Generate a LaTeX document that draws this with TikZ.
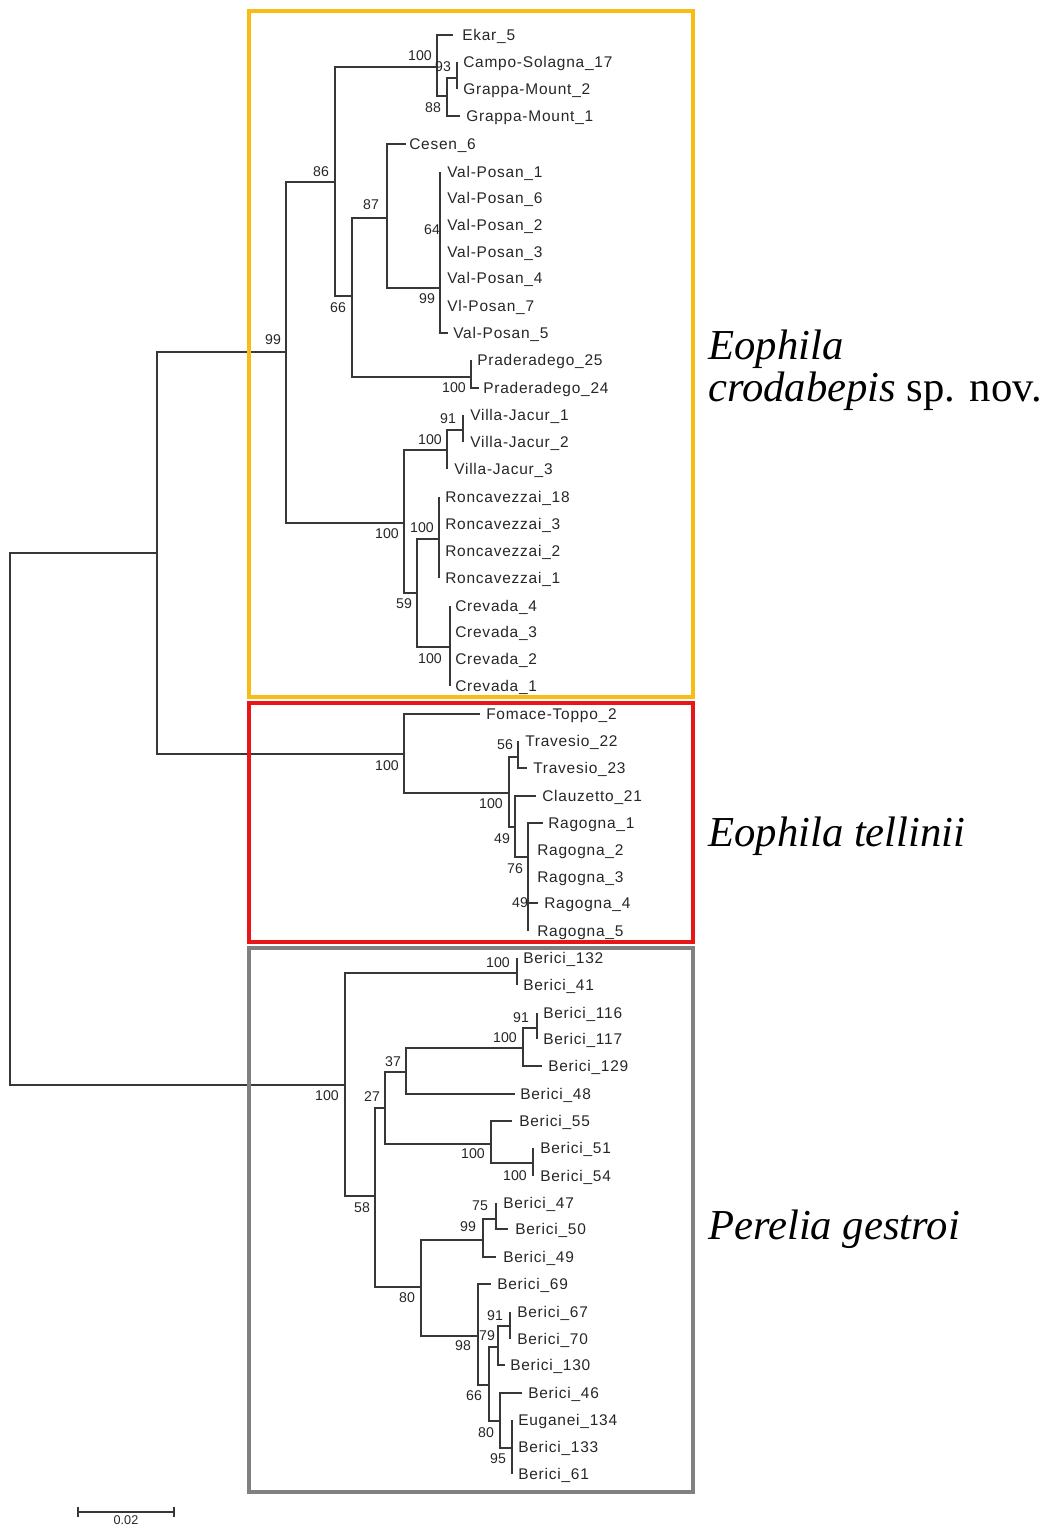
\documentclass[tikz,border=0pt]{standalone}
\usepackage{fontspec}
\setmainfont{Liberation Serif}
\newfontfamily\labfont[LetterSpace=5]{Liberation Sans}
\newfontfamily\numfont{Liberation Sans}
\definecolor{boxorange}{RGB}{248,188,20}
\definecolor{boxred}{RGB}{232,22,22}
\definecolor{boxgray}{RGB}{128,128,128}
\definecolor{treeline}{RGB}{55,55,55}
\tikzset{
  branch/.style={line width=0.95pt, draw=treeline},
  leaf/.style={anchor=west, inner sep=0pt, text height=8.3pt, text depth=0pt,
    font=\labfont\fontsize{11.6}{13}\selectfont, text=black!85},
  bs/.style={anchor=center, inner sep=0pt, text height=7.6pt, text depth=0pt,
    font=\numfont\fontsize{10.6}{12}\selectfont, text=black!85},
  species/.style={anchor=base west, inner sep=0pt,
    font=\fontsize{32}{38}\selectfont\itshape},
  cladebox/.style={line width=3pt}
}
\newcommand\mkleaf[5]{\coordinate (t#1) at (#2,#4); \node[leaf] (l#1) at (#3,#4) {#5};}
\newcommand\bsv[3]{\node[bs] (b#1) at (#2) {#3};}
\begin{document}
\begin{tikzpicture}[x=0.75pt,y=-0.75pt]
\useasboundingbox (0,0) rectangle (1043,1527);
% ---------- leaves ----------
\mkleaf{Ekar}{453}{462}{35}{Ekar\_5}
\mkleaf{Campo}{457}{463}{62}{Campo-Solagna\_17}
\mkleaf{GMb}{457}{463}{89}{Grappa-Mount\_2}
\mkleaf{GMa}{460}{466}{116}{Grappa-Mount\_1}
\mkleaf{Cesen}{406}{409}{144}{Cesen\_6}
\mkleaf{VPa}{440}{447}{172}{Val-Posan\_1}
\mkleaf{VPf}{440}{447}{198}{Val-Posan\_6}
\mkleaf{VPb}{440}{447}{225}{Val-Posan\_2}
\mkleaf{VPc}{440}{447}{252}{Val-Posan\_3}
\mkleaf{VPd}{440}{447}{278}{Val-Posan\_4}
\mkleaf{VPg}{440}{447}{306}{Vl-Posan\_7}
\mkleaf{VPe}{448}{453}{333}{Val-Posan\_5}
\mkleaf{Pra}{471}{477}{360}{Praderadego\_25}
\mkleaf{Prb}{479}{483}{388}{Praderadego\_24}
\mkleaf{VJa}{463}{470}{415}{Villa-Jacur\_1}
\mkleaf{VJb}{463}{470}{442}{Villa-Jacur\_2}
\mkleaf{VJc}{447}{454}{469}{Villa-Jacur\_3}
\mkleaf{Ra}{439}{445}{497}{Roncavezzai\_18}
\mkleaf{Rb}{439}{445}{524}{Roncavezzai\_3}
\mkleaf{Rc}{439}{445}{551}{Roncavezzai\_2}
\mkleaf{Rd}{439}{445}{578}{Roncavezzai\_1}
\mkleaf{Cra}{450}{455}{606}{Crevada\_4}
\mkleaf{Crb}{450}{455}{632}{Crevada\_3}
\mkleaf{Crc}{450}{455}{659}{Crevada\_2}
\mkleaf{Crd}{450}{455}{686}{Crevada\_1}
\mkleaf{FT}{480}{486}{714}{Fomace-Toppo\_2}
\mkleaf{Tra}{518}{525}{741}{Travesio\_22}
\mkleaf{Trb}{527}{533}{768}{Travesio\_23}
\mkleaf{Cla}{536}{542}{796}{Clauzetto\_21}
\mkleaf{Rga}{543}{548}{823}{Ragogna\_1}
\mkleaf{Rgb}{528}{537}{850}{Ragogna\_2}
\mkleaf{Rgc}{528}{537}{877}{Ragogna\_3}
\mkleaf{Rgd}{538}{544}{903}{Ragogna\_4}
\mkleaf{Rge}{528}{537}{931}{Ragogna\_5}
\mkleaf{Ba}{517}{523}{958}{Berici\_132}
\mkleaf{Bb}{517}{523}{985}{Berici\_41}
\mkleaf{Bc}{537}{543}{1013}{Berici\_116}
\mkleaf{Bd}{537}{543}{1039}{Berici\_117}
\mkleaf{Be}{542}{548}{1066}{Berici\_129}
\mkleaf{Bf}{515}{520}{1094}{Berici\_48}
\mkleaf{Bg}{512}{519}{1121}{Berici\_55}
\mkleaf{Bh}{533}{540}{1148}{Berici\_51}
\mkleaf{Bi}{533}{540}{1176}{Berici\_54}
\mkleaf{Bj}{496}{503}{1203}{Berici\_47}
\mkleaf{Bk}{508}{515}{1229}{Berici\_50}
\mkleaf{Bl}{496}{503}{1257}{Berici\_49}
\mkleaf{Bm}{491}{497}{1284}{Berici\_69}
\mkleaf{Bn}{510}{517}{1312}{Berici\_67}
\mkleaf{Bo}{510}{517}{1339}{Berici\_70}
\mkleaf{Bp}{505}{510}{1365}{Berici\_130}
\mkleaf{Bq}{522}{528}{1393}{Berici\_46}
\mkleaf{Br}{512}{518}{1420}{Euganei\_134}
\mkleaf{Bs}{512}{518}{1447}{Berici\_133}
\mkleaf{Bt}{512}{518}{1474}{Berici\_61}
% ---------- internal nodes ----------
\coordinate (R) at (10,819);
\coordinate (A) at (157,553);
\coordinate (E99) at (286,352);
\coordinate (E86) at (335,182);
\coordinate (C100) at (437,67);
\coordinate (C88) at (447,96);
\coordinate (C93) at (457,78);
\coordinate (E66) at (352,296);
\coordinate (E87) at (387,218);
\coordinate (VP99) at (440,288);
\coordinate (Pr100) at (471,377);
\coordinate (EB100) at (404,523);
\coordinate (VJ100) at (447,450);
\coordinate (VJ91) at (463,430);
\coordinate (E59) at (417,593);
\coordinate (R100) at (439,539);
\coordinate (Cr100) at (450,647);
\coordinate (T100) at (404,754);
\coordinate (T100b) at (509,793);
\coordinate (T56) at (518,757);
\coordinate (T49) at (515,827);
\coordinate (T76) at (528,857);
\coordinate (Rthick) at (528,896);
\coordinate (P100) at (345,1085);
\coordinate (B132n) at (517,973);
\coordinate (P58) at (375,1196);
\coordinate (P27) at (385,1108);
\coordinate (P37) at (406,1072);
\coordinate (P100b) at (523,1048);
\coordinate (P91) at (537,1028);
\coordinate (P100c) at (491,1144);
\coordinate (P100d) at (533,1163);
\coordinate (P80) at (421,1287);
\coordinate (P99) at (483,1240);
\coordinate (P75) at (496,1219);
\coordinate (P98) at (478,1336);
\coordinate (P66) at (489,1385);
\coordinate (P79) at (498,1347);
\coordinate (P91b) at (510,1326);
\coordinate (P80b) at (500,1421);
\coordinate (P95) at (512,1448);
% ---------- branches ----------
\foreach \c in {A,P100} \draw[branch] (R) |- (\c);
\foreach \c in {E99,T100} \draw[branch] (A) |- (\c);
\foreach \c in {E86,EB100} \draw[branch] (E99) |- (\c);
\foreach \c in {C100,E66} \draw[branch] (E86) |- (\c);
\foreach \c in {tEkar,C88} \draw[branch] (C100) |- (\c);
\foreach \c in {C93,tGMa} \draw[branch] (C88) |- (\c);
\foreach \c in {tCampo,tGMb} \draw[branch] (C93) |- (\c);
\foreach \c in {E87,Pr100} \draw[branch] (E66) |- (\c);
\foreach \c in {tCesen,VP99} \draw[branch] (E87) |- (\c);
\foreach \c in {tVPa,tVPf,tVPb,tVPc,tVPd,tVPg,tVPe} \draw[branch] (VP99) |- (\c);
\foreach \c in {tPra,tPrb} \draw[branch] (Pr100) |- (\c);
\foreach \c in {VJ100,E59} \draw[branch] (EB100) |- (\c);
\foreach \c in {VJ91,tVJc} \draw[branch] (VJ100) |- (\c);
\foreach \c in {tVJa,tVJb} \draw[branch] (VJ91) |- (\c);
\foreach \c in {R100,Cr100} \draw[branch] (E59) |- (\c);
\foreach \c in {tRa,tRb,tRc,tRd} \draw[branch] (R100) |- (\c);
\foreach \c in {tCra,tCrb,tCrc,tCrd} \draw[branch] (Cr100) |- (\c);
\foreach \c in {tFT,T100b} \draw[branch] (T100) |- (\c);
\foreach \c in {T56,T49} \draw[branch] (T100b) |- (\c);
\foreach \c in {tTra,tTrb} \draw[branch] (T56) |- (\c);
\foreach \c in {tCla,T76} \draw[branch] (T49) |- (\c);
\foreach \c in {tRga,tRgb,tRgc,tRgd,tRge} \draw[branch] (T76) |- (\c);
\draw[branch, line width=2pt] (tRgb) -- (Rthick);
\foreach \c in {B132n,P58} \draw[branch] (P100) |- (\c);
\foreach \c in {tBa,tBb} \draw[branch] (B132n) |- (\c);
\foreach \c in {P27,P80} \draw[branch] (P58) |- (\c);
\foreach \c in {P37,P100c} \draw[branch] (P27) |- (\c);
\foreach \c in {P100b,tBf} \draw[branch] (P37) |- (\c);
\foreach \c in {P91,tBe} \draw[branch] (P100b) |- (\c);
\foreach \c in {tBc,tBd} \draw[branch] (P91) |- (\c);
\foreach \c in {tBg,P100d} \draw[branch] (P100c) |- (\c);
\foreach \c in {tBh,tBi} \draw[branch] (P100d) |- (\c);
\foreach \c in {P99,P98} \draw[branch] (P80) |- (\c);
\foreach \c in {P75,tBl} \draw[branch] (P99) |- (\c);
\foreach \c in {tBj,tBk} \draw[branch] (P75) |- (\c);
\foreach \c in {tBm,P66} \draw[branch] (P98) |- (\c);
\foreach \c in {P79,P80b} \draw[branch] (P66) |- (\c);
\foreach \c in {P91b,tBp} \draw[branch] (P79) |- (\c);
\foreach \c in {tBn,tBo} \draw[branch] (P91b) |- (\c);
\foreach \c in {tBq,P95} \draw[branch] (P80b) |- (\c);
\foreach \c in {tBr,tBs,tBt} \draw[branch] (P95) |- (\c);
% ---------- bootstrap values ----------
\bsv{1}{420,55}{100}
\bsv{2}{443,66}{93}
\bsv{3}{433,107}{88}
\bsv{4}{321,171}{86}
\bsv{5}{371,204}{87}
\bsv{6}{432,229}{64}
\bsv{7}{427,298}{99}
\bsv{8}{338,307}{66}
\bsv{9}{273,339}{99}
\bsv{10}{454,387}{100}
\bsv{11}{448,418}{91}
\bsv{12}{430,439}{100}
\bsv{13}{387,533}{100}
\bsv{14}{422,527}{100}
\bsv{15}{404,603}{59}
\bsv{16}{430,658}{100}
\bsv{17}{387,765}{100}
\bsv{18}{505,744}{56}
\bsv{19}{491,803}{100}
\bsv{20}{502,838}{49}
\bsv{21}{515,868}{76}
\bsv{22}{520,902}{49}
\bsv{23}{498,962}{100}
\bsv{24}{521,1017}{91}
\bsv{25}{505,1037}{100}
\bsv{26}{393,1061}{37}
\bsv{27}{327,1095}{100}
\bsv{28}{372,1096}{27}
\bsv{29}{473,1153}{100}
\bsv{30}{515,1175}{100}
\bsv{31}{362,1207}{58}
\bsv{32}{480,1205}{75}
\bsv{33}{468,1226}{99}
\bsv{34}{407,1297}{80}
\bsv{35}{495,1315}{91}
\bsv{36}{487,1335}{79}
\bsv{37}{463,1345}{98}
\bsv{38}{474,1395}{66}
\bsv{39}{486,1432}{80}
\bsv{40}{498,1458}{95}
% ---------- clade boxes ----------
\draw[cladebox, boxorange] (249,11) rectangle (693,697);
\draw[cladebox, boxred] (249,703) rectangle (693,942);
\draw[cladebox, boxgray] (249,948) rectangle (693,1492);
% ---------- species names ----------
\node[species] (s1a) at (708,359) {Eophila};
\node[species] (s1b) at (708,401) {crodabepis\/ \upshape sp. nov.};
\node[species] (s2) at (708,846) {Eophila tellinii};
\node[species] (s3) at (708,1239) {Perelia gestroi};
% ---------- scale bar ----------
\coordinate (sa) at (78,1512);
\coordinate (sb) at (174,1512);
\draw[branch] (sa) -- (sb);
\draw[branch] ([yshift=4pt]sa) -- ([yshift=-4pt]sa);
\draw[branch] ([yshift=4pt]sb) -- ([yshift=-4pt]sb);
\node[bs, anchor=north, font=\numfont\fontsize{9.5}{11}\selectfont, text height=6.8pt] (sl) at (126,1515.5) {0.02};
\end{tikzpicture}
\end{document}
